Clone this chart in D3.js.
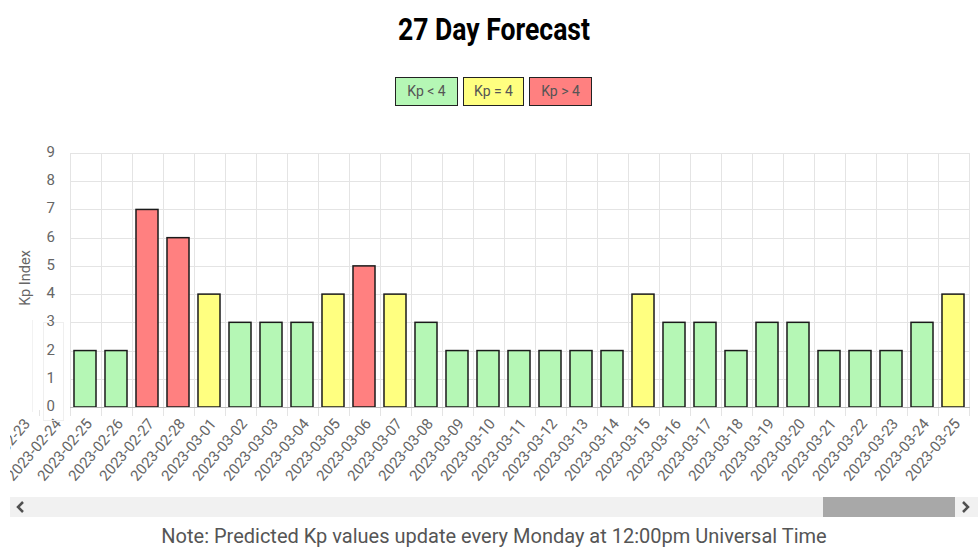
<!DOCTYPE html>
<head>
  <meta charset="utf-8">
  <script src="https://d3js.org/d3.v7.min.js"></script>
  <style>
    body{ margin: 0; background: #fff; }
    text{ font-family: Roboto, sans-serif; fill: #666; }
    text.title{ font-weight: 700; font-size: 31px; fill: #000; }
    text.note{ font-size: 20px; fill: #555; }
    text.legendText{ font-size: 14px; fill: #555; }
    text.xLabel{ font-size: 15px; }
    text.yLabel{ font-size: 15px; }
    line.grid{ stroke: #e4e4e4; shape-rendering: crispEdges; }
  </style>
</head>
<body>
<script>
  // forecast days (first two are scrolled out of view behind the y axis)
  const days = ['2023-02-23','2023-02-24','2023-02-25','2023-02-26','2023-02-27','2023-02-28',
    '2023-03-01','2023-03-02','2023-03-03','2023-03-04','2023-03-05','2023-03-06','2023-03-07',
    '2023-03-08','2023-03-09','2023-03-10','2023-03-11','2023-03-12','2023-03-13','2023-03-14',
    '2023-03-15','2023-03-16','2023-03-17','2023-03-18','2023-03-19','2023-03-20','2023-03-21',
    '2023-03-22','2023-03-23','2023-03-24','2023-03-25'];
  const kp = [null, null, 2, 2, 7, 6,
    4, 3, 3, 3, 4, 5, 4,
    3, 2, 2, 2, 2, 2, 2,
    4, 3, 3, 2, 3, 3, 2,
    2, 2, 3, 4];
  const yTicks = [0,1,2,3,4,5,6,7,8,9];
  const legendLabels = ['Kp < 4', 'Kp = 4', 'Kp > 4'];
  const legendColours = ['#b5f7b5', '#ffff80', '#ff8080'];

  const width = 980, height = 555;
  const plotTop = 153, plotBottom = 407, plotLeft = 70, plotRight = 970;

  const svg = d3.select('body').append('svg')
    .attr('width', width).attr('height', height);

  const colour = v => v < 4 ? legendColours[0] : (v == 4 ? legendColours[1] : legendColours[2]);

  let x = d3.scaleBand().domain(days).range([7.5, 968.5]).padding(0);
  let y = d3.scaleLinear().domain([0, 9]).range([plotBottom, plotTop]);

  // the scrolling container clips its content at its edges
  svg.append('clipPath').attr('id', 'scrollClip')
    .append('rect').attr('x', 10).attr('y', 0).attr('width', 968).attr('height', 495);

  // title (condensed look)
  svg.append('text').attr('class', 'title')
    .attr('x', 494).attr('y', 40).style('text-anchor', 'middle')
    .attr('textLength', 192).attr('lengthAdjust', 'spacingAndGlyphs')
    .text('27 Day Forecast');

  // legend
  const legendW = [62, 60, 62];
  let lx = 395;
  legendLabels.forEach((l, i) => {
    svg.append('rect').attr('x', lx + 0.5).attr('y', 77.5)
      .attr('width', legendW[i]).attr('height', 28)
      .style('fill', legendColours[i]).style('stroke', '#222').style('stroke-width', 1);
    svg.append('text').attr('class', 'legendText')
      .attr('x', lx + legendW[i]/2 + 0.5).attr('y', 96)
      .style('text-anchor', 'middle').text(l);
    lx += legendW[i] + 6;
  });

  // grid
  const g = svg.append('g').attr('clip-path', 'url(#scrollClip)');
  g.selectAll('line.hgrid').data(yTicks).enter().append('line')
    .attr('class', 'grid')
    .attr('x1', plotLeft).attr('x2', plotRight)
    .attr('y1', d => Math.round(y(d)) + 0.5).attr('y2', d => Math.round(y(d)) + 0.5);
  const bounds = days.map(d => x(d)).concat([x(days[days.length-1]) + x.bandwidth()]);
  g.selectAll('line.vgrid').data(bounds).enter().append('line')
    .attr('class', 'grid')
    .attr('x1', d => Math.round(d) + 0.5).attr('x2', d => Math.round(d) + 0.5)
    .attr('y1', plotTop).attr('y2', plotBottom + 9);

  // bars
  const barW = x.bandwidth() * 0.71;
  g.selectAll('rect.bar').data(days.map((d, i) => ({day: d, v: kp[i]})).filter(d => d.v != null))
    .enter().append('rect')
    .attr('class', 'bar')
    .attr('x', d => x(d.day) + (x.bandwidth() - barW)/2)
    .attr('width', barW)
    .attr('y', d => y(d.v))
    .attr('height', d => y(0) - y(d.v))
    .style('fill', d => colour(d.v))
    .style('stroke', '#1a1a1a')
    .style('stroke-width', 1.5);

  // x axis line
  g.append('line').attr('x1', plotLeft).attr('x2', plotRight)
    .attr('y1', plotBottom + 0.5).attr('y2', plotBottom + 0.5)
    .style('stroke', '#bbb');

  // x labels
  g.selectAll('text.xLabel').data(days).enter().append('text')
    .attr('class', 'xLabel')
    .attr('transform', d => `translate(${x(d) + x.bandwidth()/2 + 8},${plotBottom + 17}) rotate(-50)`)
    .style('text-anchor', 'end')
    .text(d => d);

  // sticky y axis panel
  svg.append('rect').attr('x', 0).attr('y', 130).attr('width', plotLeft - 2).attr('height', plotBottom - 130 + 3)
    .style('fill', '#fff');
  svg.append('rect').attr('x', 43.5).attr('y', 322.5).attr('width', 20).attr('height', 98)
    .style('fill', 'none').style('stroke', '#efefef');
  svg.append('line').attr('x1', 32.5).attr('x2', 32.5).attr('y1', 320).attr('y2', 412)
    .style('stroke', '#f2f2f2');
  svg.selectAll('text.yLabel').data(yTicks).enter().append('text')
    .attr('class', 'yLabel')
    .attr('x', 55).attr('y', d => y(d) + 4)
    .style('text-anchor', 'end')
    .text(d => d);
  svg.append('text').attr('class', 'yLabel')
    .attr('transform', `translate(30,${(plotTop + plotBottom)/2 - 2}) rotate(-90)`)
    .style('text-anchor', 'middle').style('font-size', '14.5px')
    .text('Kp Index');

  // scrollbar
  svg.append('rect').attr('x', 10).attr('y', 497).attr('width', 968).attr('height', 20).style('fill', '#f1f1f1');
  svg.append('rect').attr('x', 823).attr('y', 497).attr('width', 132).attr('height', 20).style('fill', '#a8a8a8');
  svg.append('path').attr('d', 'M23,502 L18,507 L23,512').style('fill', 'none').style('stroke', '#505050').style('stroke-width', 2.5);
  svg.append('path').attr('d', 'M963,502 L968,507 L963,512').style('fill', 'none').style('stroke', '#505050').style('stroke-width', 2.5);

  // note
  svg.append('text').attr('class', 'note')
    .attr('x', 494).attr('y', 543).style('text-anchor', 'middle')
    .text('Note: Predicted Kp values update every Monday at 12:00pm Universal Time');
</script>
</body>
